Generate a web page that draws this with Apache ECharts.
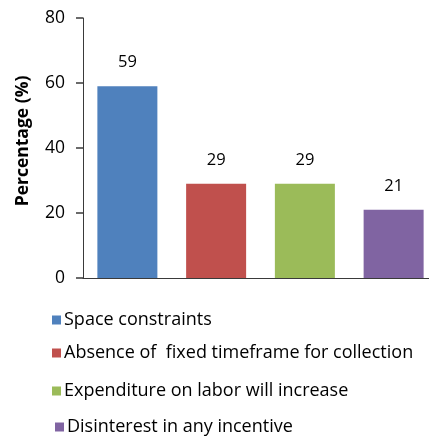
<!DOCTYPE html>
<html>
<head>
<meta charset="utf-8">
<script src="https://cdn.jsdelivr.net/npm/echarts@6/dist/echarts.min.js"></script>
<style>
  html, body { margin: 0; padding: 0; background: #fff; }
  #chart { width: 429px; height: 436px; }
</style>
</head>
<body>
<div id="chart"></div>
<script>
// Reasons given, share of respondents (%)
const categories = [
  'Space constraints',
  'Absence of  fixed timeframe for collection',
  'Expenditure on labor will increase',
  'Disinterest in any incentive'
];
const percentages = [59, 29, 29, 21];
const colors = ['#4F81BD', '#C0504D', '#9BBB59', '#8064A2'];
const yTicks = [0, 20, 40, 60, 80];

const FONT = '"Open Sans", Lato, sans-serif';

// One series per reason so each gets its own legend entry; all share one slot per category.
const series = categories.map((name, i) => ({
  name,
  type: 'bar',
  barWidth: 60,
  barGap: '-100%',
  itemStyle: { color: colors[i] },
  label: {
    show: true,
    position: 'top',
    distance: 15,
    color: '#000',
    fontFamily: FONT,
    fontSize: 16.5
  },
  data: percentages.map((v, j) => (j === i ? v : null))
}));

// Legend rows, stacked under the plot
const legendRows = [
  { left: 52, top: 310 },
  { left: 52, top: 343 },
  { left: 52, top: 381 },
  { left: 55, top: 417 }
];
const legends = categories.map((name, i) => ({
  data: [name],
  left: legendRows[i].left,
  top: legendRows[i].top,
  orient: 'vertical',
  padding: 0,
  icon: 'rect',
  itemWidth: 9,
  itemHeight: 9,
  itemGap: 0,
  selectedMode: false,
  textStyle: {
    fontFamily: FONT,
    fontSize: 18,
    color: '#000',
    padding: [0, 0, 0, -2],
    lineHeight: 20
  }
}));

const chart = echarts.init(document.getElementById('chart'), null, { renderer: 'canvas' });
chart.setOption({
  animation: false,
  backgroundColor: '#fff',
  legend: legends,
  grid: {
    left: 83, top: 18, width: 355, height: 260,
    containLabel: false,
    outerBoundsMode: 'none'
  },
  xAxis: {
    type: 'category',
    data: categories,
    axisLine: { lineStyle: { color: '#3a3a3a', width: 1.2 } },
    axisTick: { show: false },
    axisLabel: { show: false },
    splitLine: { show: false }
  },
  yAxis: {
    type: 'value',
    min: yTicks[0],
    max: yTicks[yTicks.length - 1],
    interval: yTicks[1] - yTicks[0],
    name: 'Percentage (%)',
    nameLocation: 'middle',
    nameGap: 51,
    nameTextStyle: {
      fontFamily: FONT,
      fontSize: 17.5,
      fontWeight: 'bold',
      color: '#000',
      padding: [0, 0, 0, 14]
    },
    axisLine: {
      show: true,
      lineStyle: { color: '#3a3a3a', width: 1 }
    },
    axisTick: {
      show: true,
      inside: false,
      length: 7,
      lineStyle: { color: '#3a3a3a', width: 1.5, opacity: 1 }
    },
    axisLabel: {
      margin: 18,
      fontFamily: FONT,
      fontSize: 17.5,
      color: '#000'
    },
    splitLine: { show: false }
  },
  series
});
</script>
</body>
</html>
